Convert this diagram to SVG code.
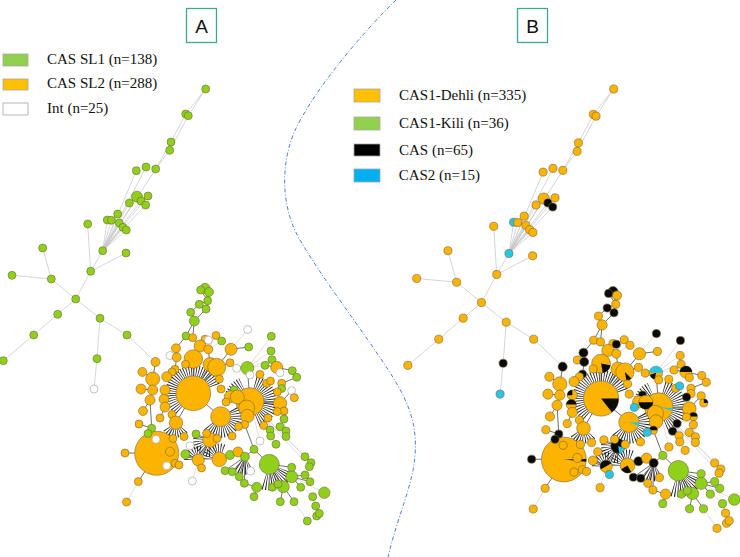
<svg xmlns="http://www.w3.org/2000/svg" xmlns:xlink="http://www.w3.org/1999/xlink" width="740" height="557" viewBox="0 0 740 557">
<style>
text{font-family:"Liberation Serif","Times New Roman",serif;font-size:15px;fill:#111}
.ttl{font-family:"Liberation Sans",Arial,sans-serif;font-size:19px;text-anchor:middle}
.box{fill:none;stroke:#3aaa94;stroke-width:1.3}
.sw{stroke:#a6a6a6;stroke-width:.8}
circle{stroke:#74683a;stroke-width:.6}
.o{fill:#fdb400}.g{fill:#8fd11a}.w{fill:#fff;stroke:#9a9a9a}.k{fill:#0a0a0a}.c{fill:#26c6e8}
.pk{fill:#0a0a0a}.pc{fill:#26c6e8}
.t{stroke:#c4c4c4;stroke-width:.7}
.e{stroke:#333;stroke-width:.7}
.l{stroke:#cacaca;stroke-width:.6}
.s{stroke:#1e1e1e;fill:none;stroke-dasharray:.8 1.6}
.div{fill:none;stroke:#3b6fd2;stroke-width:.9;stroke-dasharray:4 2 1 2}
</style>
<rect width="740" height="557" fill="#fff"/>
<path class="div" d="M396 0 C360 35 310 95 293 135 C278 175 285 215 300 240 C320 275 355 320 385 365 C405 395 418 420 415 455 C413 485 398 515 388 557"/>
<g id="title-a"><rect class="box" x="186.5" y="8.5" width="30" height="34"/><text class="ttl" x="201.5" y="32.5">A</text></g>
<g id="title-b"><rect class="box" x="517.5" y="8.5" width="30" height="34"/><text class="ttl" x="532.5" y="32.5">B</text></g>
<g id="legend-a">
<rect class="sw" x="3" y="54" width="25" height="12" fill="#92d050"/><text x="47" y="64">CAS SL1 (n=138)</text>
<rect class="sw" x="3" y="79" width="25" height="11" fill="#ffc000"/><text x="47" y="88">CAS SL2 (n=288)</text>
<rect class="sw" x="3" y="103" width="25" height="12" fill="#fff"/><text x="47" y="113">Int (n=25)</text>
</g>
<g id="legend-b">
<rect class="sw" x="354" y="89" width="26" height="13" fill="#ffc000"/><text x="399" y="100">CAS1-Dehli (n=335)</text>
<rect class="sw" x="354" y="117" width="26" height="13" fill="#92d050"/><text x="399" y="128">CAS1-Kili (n=36)</text>
<rect class="sw" x="354" y="144" width="26" height="12" fill="#000"/><text x="399" y="155">CAS (n=65)</text>
<rect class="sw" x="354" y="169" width="26" height="13" fill="#00b0f0"/><text x="398.7" y="180">CAS2 (n=15)</text>
</g>
<g id="connectors-a">
<line class="t" x1="205.7" y1="89" x2="185.7" y2="114"/><line class="t" x1="205.7" y1="89" x2="188.3" y2="115.7"/>
<line class="t" x1="185.7" y1="114" x2="171" y2="142"/><line class="t" x1="188.3" y1="115.7" x2="169.7" y2="150.3"/>
<line class="t" x1="171" y1="142" x2="155.7" y2="169"/><line class="t" x1="169.7" y1="150.3" x2="155.7" y2="169"/>
<line class="t" x1="155.7" y1="169" x2="102.7" y2="250.7"/><line class="t" x1="146" y1="167" x2="102.7" y2="250.7"/>
<line class="t" x1="136.3" y1="170.7" x2="102.7" y2="250.7"/><line class="t" x1="137" y1="196.7" x2="102.7" y2="250.7"/>
<line class="t" x1="141" y1="201" x2="102.7" y2="250.7"/><line class="t" x1="148" y1="196" x2="102.7" y2="250.7"/>
<line class="t" x1="145.7" y1="205" x2="102.7" y2="250.7"/><line class="t" x1="129.3" y1="203" x2="102.7" y2="250.7"/>
<line class="t" x1="117.7" y1="214" x2="102.7" y2="250.7"/><line class="t" x1="107.3" y1="220" x2="102.7" y2="250.7"/>
<line class="t" x1="111.3" y1="220.3" x2="102.7" y2="250.7"/><line class="t" x1="119.3" y1="223" x2="102.7" y2="250.7"/>
<line class="t" x1="123" y1="227.3" x2="102.7" y2="250.7"/><line class="t" x1="126.3" y1="230" x2="102.7" y2="250.7"/>
<line class="t" x1="87.7" y1="224" x2="90.7" y2="271.3"/><line class="t" x1="102.7" y1="250.7" x2="90.7" y2="271.3"/>
<line class="t" x1="126" y1="253" x2="90.7" y2="271.3"/><line class="t" x1="90.7" y1="271.3" x2="75.7" y2="299"/>
<line class="t" x1="42.7" y1="248" x2="51.3" y2="279"/><line class="t" x1="12" y1="275.3" x2="51.3" y2="279"/>
<line class="t" x1="51.3" y1="279" x2="75.7" y2="299"/><line class="t" x1="75.7" y1="299" x2="57.7" y2="314.3"/>
<line class="t" x1="57.7" y1="314.3" x2="33.7" y2="335"/><line class="t" x1="33.7" y1="335" x2="3.3" y2="360.7"/>
<line class="t" x1="75.7" y1="299" x2="100" y2="318.3"/><line class="t" x1="100" y1="318.3" x2="127" y2="335"/>
<line class="t" x1="100" y1="318.3" x2="97" y2="358.7"/><line class="t" x1="97" y1="358.7" x2="94" y2="389"/>
<line class="t" x1="127" y1="335" x2="155.5" y2="362"/>
<line class="l" x1="247.7" y1="329.5" x2="231" y2="349.3"/><line class="l" x1="271.3" y1="336.3" x2="247.3" y2="368"/>
<line class="l" x1="271" y1="351" x2="247.3" y2="368"/><line class="l" x1="272" y1="359.7" x2="247.3" y2="368"/>
<line class="l" x1="265" y1="365.3" x2="247.3" y2="368"/><line class="l" x1="250" y1="375" x2="247.3" y2="368"/>
<line class="l" x1="170" y1="355.5" x2="176" y2="348.3"/><line class="l" x1="205" y1="339.3" x2="200" y2="346"/>
<line class="l" x1="216" y1="335.5" x2="208.3" y2="349.3"/><line class="l" x1="221.7" y1="341" x2="208.3" y2="349.3"/>
<line class="l" x1="208.3" y1="340" x2="200" y2="346"/>
<line class="l" x1="250" y1="401.7" x2="305" y2="456.7"/><line class="l" x1="250" y1="401.7" x2="311" y2="462.7"/>
<line class="l" x1="250" y1="401.7" x2="309.3" y2="466.7"/><line class="l" x1="268" y1="418" x2="270" y2="430"/>
<line class="l" x1="268" y1="418" x2="270.7" y2="436"/><line class="l" x1="284" y1="419" x2="280" y2="426.7"/>
<line class="l" x1="284" y1="419" x2="286" y2="431"/><line class="l" x1="284" y1="419" x2="286" y2="436.5"/>
<line class="l" x1="270.7" y1="436" x2="276" y2="444.3"/><line class="l" x1="260" y1="441" x2="250" y2="401.7"/>
<line class="l" x1="324.3" y1="492.7" x2="291.7" y2="476.7"/><line class="l" x1="312.7" y1="496.7" x2="291.7" y2="476.7"/>
<line class="l" x1="315.7" y1="506" x2="312.7" y2="496.7"/><line class="l" x1="316.7" y1="516" x2="312.7" y2="496.7"/>
<line class="l" x1="319.3" y1="513.5" x2="312.7" y2="496.7"/><line class="l" x1="307.3" y1="521" x2="294" y2="501.7"/>
<line class="l" x1="190" y1="445.7" x2="210" y2="440"/><line class="l" x1="192.3" y1="481" x2="198.3" y2="460"/>
<line class="l" x1="166.7" y1="465.7" x2="156.7" y2="453.3"/><line class="l" x1="138.3" y1="481.6" x2="126.6" y2="502"/>
<line class="l" x1="250.7" y1="471" x2="245" y2="456.7"/><line class="l" x1="280" y1="372.7" x2="276.7" y2="367.3"/>
<line class="e" x1="205" y1="288.3" x2="207.7" y2="300.7"/><line class="e" x1="200.7" y1="290" x2="207.7" y2="300.7"/>
<line class="e" x1="209" y1="292" x2="207.7" y2="300.7"/><line class="e" x1="207.7" y1="300.7" x2="206" y2="309"/>
<line class="e" x1="199.3" y1="304.3" x2="190.7" y2="312.3"/><line class="e" x1="207.7" y1="300.7" x2="199.3" y2="304.3"/>
<line class="e" x1="206" y1="309" x2="194.3" y2="321"/><line class="e" x1="190.7" y1="312.3" x2="194.3" y2="321"/>
<line class="e" x1="194.3" y1="321" x2="186" y2="336"/><line class="e" x1="194.3" y1="321" x2="192.7" y2="337.7"/>
<line class="e" x1="186" y1="336" x2="176" y2="348.3"/><line class="e" x1="192.7" y1="337.7" x2="200" y2="346"/>
<line class="e" x1="200" y1="346" x2="193.3" y2="359"/><line class="e" x1="208.3" y1="349.3" x2="210" y2="364.5"/>
<line class="e" x1="231" y1="349.3" x2="216.7" y2="367.3"/><line class="e" x1="230" y1="362.7" x2="216.7" y2="367.3"/>
<line class="e" x1="248.7" y1="347" x2="231" y2="349.3"/><line class="e" x1="236.7" y1="368.3" x2="247.3" y2="368"/>
<line class="e" x1="247.3" y1="368" x2="250" y2="401.7"/><line class="e" x1="193.3" y1="359" x2="193.3" y2="393.3"/>
<line class="e" x1="216.7" y1="367.3" x2="193.3" y2="393.3"/><line class="e" x1="210" y1="364.5" x2="193.3" y2="393.3"/>
<line class="e" x1="176" y1="348.3" x2="176.7" y2="357.3"/><line class="e" x1="155.5" y1="362" x2="152.7" y2="379"/>
<line class="e" x1="142.4" y1="371.9" x2="152.7" y2="379"/><line class="e" x1="175" y1="369.3" x2="176.7" y2="357.3"/>
<line class="e" x1="141" y1="389" x2="152.7" y2="390"/><line class="e" x1="143" y1="411" x2="150" y2="400"/>
<line class="e" x1="139" y1="424" x2="151.7" y2="428.3"/><line class="e" x1="160" y1="418" x2="165" y2="407"/>
<line class="e" x1="193.3" y1="393.3" x2="220.7" y2="416.7"/><line class="e" x1="220.7" y1="416.7" x2="250" y2="401.7"/>
<line class="e" x1="193.3" y1="393.3" x2="176" y2="422.7"/><line class="e" x1="176" y1="422.7" x2="156.7" y2="453.3"/>
<line class="e" x1="156.7" y1="453.3" x2="125" y2="453"/><line class="e" x1="156.7" y1="453.3" x2="138.3" y2="481.6"/>
<line class="e" x1="151.7" y1="428.3" x2="150" y2="400"/><line class="e" x1="148" y1="433.5" x2="151.7" y2="428.3"/>
<line class="e" x1="196" y1="434" x2="210" y2="440"/><line class="e" x1="220.7" y1="416.7" x2="210" y2="440"/>
<line class="e" x1="210" y1="440" x2="198.3" y2="460"/><line class="e" x1="210" y1="440" x2="219.3" y2="459.3"/>
<line class="e" x1="219.3" y1="459.3" x2="230" y2="455"/><line class="e" x1="198.3" y1="460" x2="201.5" y2="468"/>
<line class="e" x1="185.3" y1="454.3" x2="198.3" y2="460"/><line class="e" x1="230" y1="455" x2="238" y2="452"/>
<line class="e" x1="238" y1="452" x2="245" y2="456.7"/><line class="e" x1="245" y1="456.7" x2="254" y2="449.3"/>
<line class="e" x1="254" y1="449.3" x2="269.3" y2="464.3"/><line class="e" x1="254" y1="449.3" x2="244.7" y2="424.5"/>
<line class="e" x1="244.7" y1="424.5" x2="250" y2="401.7"/><line class="e" x1="225" y1="470.7" x2="245" y2="456.7"/>
<line class="e" x1="232.3" y1="471.7" x2="245" y2="456.7"/><line class="e" x1="239.3" y1="476.7" x2="245" y2="456.7"/>
<line class="e" x1="244.3" y1="483.3" x2="245" y2="456.7"/><line class="e" x1="256.7" y1="487.3" x2="244.3" y2="483.3"/>
<line class="e" x1="254" y1="496.7" x2="256.7" y2="487.3"/><line class="e" x1="269.3" y1="464.3" x2="291.7" y2="476.7"/>
<line class="e" x1="269.3" y1="464.3" x2="291.7" y2="467.3"/><line class="e" x1="269.3" y1="464.3" x2="272.3" y2="487.3"/>
<line class="e" x1="269.3" y1="464.3" x2="278" y2="484"/><line class="e" x1="269.3" y1="464.3" x2="283.3" y2="486.7"/>
<line class="e" x1="291.7" y1="476.7" x2="305" y2="475"/><line class="e" x1="291.7" y1="476.7" x2="310" y2="481.7"/>
<line class="e" x1="291.7" y1="476.7" x2="300.7" y2="487.3"/><line class="e" x1="283.3" y1="486.7" x2="280.3" y2="501.7"/>
<line class="e" x1="283.3" y1="486.7" x2="294" y2="501.7"/><line class="e" x1="276.7" y1="367.3" x2="265" y2="365.3"/>
<line class="e" x1="292.3" y1="370.7" x2="276.7" y2="367.3"/><line class="e" x1="296.7" y1="377.3" x2="281.7" y2="383.3"/>
<line class="e" x1="291.7" y1="390.7" x2="280" y2="403.3"/><line class="e" x1="294.3" y1="397.7" x2="291.7" y2="390.7"/>
<line class="e" x1="284" y1="411" x2="280" y2="403.3"/><line class="e" x1="284" y1="419" x2="284" y2="411"/>
<line class="e" x1="280" y1="403.3" x2="250" y2="401.7"/><line class="e" x1="172" y1="414.5" x2="176" y2="422.7"/>
<path class="s" stroke-width="10.6" d="M178.77 410.61 A22.6 22.6 0 1 1 214.54 385.57"/>
<path class="s" stroke-width="13" d="M255.31 381.9 A20.5 20.5 0 0 1 257.01 420.97"/>
<path class="s" stroke-width="12" d="M230.68 396.52 A20 20 0 0 1 241.54 383.58"/>
<path class="s" stroke-width="11" d="M234.12 408.95 A15.5 15.5 0 0 1 208 425.6"/>
<path class="s" stroke-width="8.3" d="M184.27 429.64 A10.8 10.8 0 0 1 166.65 428.1"/>
<path class="s" stroke-width="9.5" d="M210 452 A12 12 0 0 1 198.72 435.9"/>
<path class="s" stroke-width="8.6" d="M207.7 459.3 A11.6 11.6 0 0 1 225.1 449.25"/>
<path class="s" stroke-width="16" d="M286.22 470.46 A18 18 0 0 1 263.14 481.22"/>
<path class="s" stroke-width="14" d="M250.5 466.23 A11 11 0 0 1 237.93 465.13"/>
<path class="s" stroke-width="8" d="M188.3 460 A10 10 0 0 1 201.72 450.6"/>
</g>
<g id="connectors-b"><use xlink:href="#connectors-a" href="#connectors-a" transform="translate(404.5,-1.5) scale(1.017)"/></g>
<g id="nodes-a">
<g id="a-t1"><circle class="g" cx="205.7" cy="89" r="4"/></g>
<g id="a-t2"><circle class="g" cx="185.7" cy="114" r="4"/></g>
<g id="a-t3"><circle class="g" cx="188.3" cy="115.7" r="4"/></g>
<g id="a-t4"><circle class="g" cx="171" cy="142" r="4"/></g>
<g id="a-t5"><circle class="g" cx="169.7" cy="150.3" r="4"/></g>
<g id="a-t6"><circle class="g" cx="136.3" cy="170.7" r="4"/></g>
<g id="a-t7"><circle class="g" cx="146" cy="167" r="4"/></g>
<g id="a-t8"><circle class="g" cx="155.7" cy="169" r="4"/></g>
<g id="a-t9"><circle class="g" cx="137" cy="196.7" r="5.5"/></g>
<g id="a-t9b"><circle class="g" cx="141" cy="201" r="4"/></g>
<g id="a-t10"><circle class="g" cx="148" cy="196" r="4"/></g>
<g id="a-t11"><circle class="g" cx="145.7" cy="205" r="4"/></g>
<g id="a-t12"><circle class="g" cx="129.3" cy="203" r="4"/></g>
<g id="a-t13"><circle class="g" cx="117.7" cy="214" r="4"/></g>
<g id="a-t14"><circle class="g" cx="107.3" cy="220" r="4"/></g>
<g id="a-t15"><circle class="g" cx="111.3" cy="220.3" r="4"/></g>
<g id="a-t16"><circle class="g" cx="119.3" cy="223" r="4"/></g>
<g id="a-t17"><circle class="g" cx="123" cy="227.3" r="4"/></g>
<g id="a-t18"><circle class="g" cx="126.3" cy="230" r="4"/></g>
<g id="a-t19"><circle class="g" cx="87.7" cy="224" r="4"/></g>
<g id="a-t20"><circle class="g" cx="102.7" cy="250.7" r="4"/></g>
<g id="a-t21"><circle class="g" cx="126" cy="253" r="4"/></g>
<g id="a-t22"><circle class="g" cx="90.7" cy="271.3" r="4"/></g>
<g id="a-t23"><circle class="g" cx="42.7" cy="248" r="4"/></g>
<g id="a-t24"><circle class="g" cx="51.3" cy="279" r="4"/></g>
<g id="a-t25"><circle class="g" cx="12" cy="275.3" r="4"/></g>
<g id="a-t26"><circle class="g" cx="75.7" cy="299" r="4"/></g>
<g id="a-t27"><circle class="g" cx="57.7" cy="314.3" r="4"/></g>
<g id="a-t28"><circle class="g" cx="33.7" cy="335" r="4"/></g>
<g id="a-t29"><circle class="g" cx="3.3" cy="360.7" r="4"/></g>
<g id="a-t30"><circle class="g" cx="100" cy="318.3" r="4"/></g>
<g id="a-t31"><circle class="g" cx="127" cy="335" r="4"/></g>
<g id="a-t32"><circle class="g" cx="97" cy="358.7" r="4"/></g>
<g id="a-t33"><circle class="w" cx="94" cy="389" r="4"/></g>
<g id="a-h1"><circle class="o" cx="193.3" cy="393.3" r="17.3"/></g>
<g id="a-h4"><circle class="o" cx="156.7" cy="453.3" r="22"/></g>
<g id="a-h2"><circle class="o" cx="250" cy="401.7" r="14"/></g>
<g id="a-h3"><circle class="o" cx="220.7" cy="416.7" r="10"/></g>
<g id="a-h5"><circle class="g" cx="269.3" cy="464.3" r="10"/></g>
<g id="a-a1"><circle class="g" cx="205" cy="288.3" r="5"/></g>
<g id="a-a2"><circle class="g" cx="200.7" cy="290" r="4"/></g>
<g id="a-a3"><circle class="g" cx="209" cy="292" r="4.5"/></g>
<g id="a-a4"><circle class="g" cx="207.7" cy="300.7" r="4"/></g>
<g id="a-a5"><circle class="g" cx="199.3" cy="304.3" r="4"/></g>
<g id="a-a6"><circle class="g" cx="206" cy="309" r="4"/></g>
<g id="a-a7"><circle class="g" cx="190.7" cy="312.3" r="4"/></g>
<g id="a-a8"><circle class="g" cx="194.3" cy="321" r="5"/></g>
<g id="a-a9"><circle class="g" cx="186" cy="336" r="4"/></g>
<g id="a-a10"><circle class="o" cx="192.7" cy="337.7" r="4"/></g>
<g id="a-c1"><circle class="o" cx="176" cy="348.3" r="4.5"/></g>
<g id="a-c3"><circle class="o" cx="205" cy="339.3" r="4"/></g>
<g id="a-c4"><circle class="w" cx="208.3" cy="340" r="4"/></g>
<g id="a-c5"><circle class="o" cx="216" cy="335.5" r="4"/></g>
<g id="a-c6"><circle class="g" cx="221.7" cy="341" r="4"/></g>
<g id="a-c7"><circle class="o" cx="200" cy="346" r="6"/></g>
<g id="a-c8"><circle class="o" cx="208.3" cy="349.3" r="4.5"/></g>
<g id="a-c9"><circle class="w" cx="170" cy="355.5" r="4"/></g>
<g id="a-c10"><circle class="o" cx="176.7" cy="357.3" r="4.5"/></g>
<g id="a-c11"><circle class="o" cx="155.5" cy="362" r="4.5"/></g>
<g id="a-c12"><circle class="o" cx="231" cy="349.3" r="6"/></g>
<g id="a-c13"><circle class="o" cx="230" cy="362.7" r="4"/></g>
<g id="a-c16"><circle class="o" cx="210" cy="364.5" r="7"/></g>
<g id="a-c14"><circle class="o" cx="193.3" cy="359" r="9.3"/></g>
<g id="a-c15"><circle class="o" cx="216.7" cy="367.3" r="9"/></g>
<g id="a-c17"><circle class="w" cx="236.7" cy="368.3" r="4"/></g>
<g id="a-c18"><circle class="w" cx="247.7" cy="329.5" r="4"/></g>
<g id="a-c19"><circle class="g" cx="248.7" cy="347" r="4"/></g>
<g id="a-c20"><circle class="g" cx="271.3" cy="336.3" r="4"/></g>
<g id="a-c21"><circle class="g" cx="271" cy="351" r="4"/></g>
<g id="a-c22"><circle class="g" cx="272" cy="359.7" r="4"/></g>
<g id="a-c23"><circle class="g" cx="265" cy="365.3" r="4"/></g>
<g id="a-c24"><circle class="g" cx="247.3" cy="368" r="6.5"/></g>
<g id="a-c25"><circle class="w" cx="250" cy="375" r="4"/></g>
<g id="a-c26"><circle class="o" cx="175" cy="369.3" r="4"/></g>
<g id="a-c36b"><circle class="o" cx="172" cy="372" r="4"/></g>
<g id="a-c36c"><circle class="o" cx="185.5" cy="364.3" r="4"/></g>
<g id="a-c36e"><circle class="o" cx="219.3" cy="379" r="4"/></g>
<g id="a-c27"><circle class="o" cx="166.7" cy="376.7" r="5"/></g>
<g id="a-c28"><circle class="o" cx="152.7" cy="379" r="7"/></g>
<g id="a-c29"><circle class="o" cx="165" cy="390" r="5"/></g>
<g id="a-c30"><circle class="o" cx="152.7" cy="390" r="5"/></g>
<g id="a-c31"><circle class="o" cx="164" cy="399.3" r="5"/></g>
<g id="a-c32"><circle class="o" cx="165" cy="407" r="5"/></g>
<g id="a-c33"><circle class="o" cx="150" cy="400" r="5"/></g>
<g id="a-c34"><circle class="o" cx="142.4" cy="371.9" r="4.5"/></g>
<g id="a-d1"><circle class="o" cx="141" cy="389" r="5"/></g>
<g id="a-d2"><circle class="o" cx="143" cy="411" r="4.5"/></g>
<g id="a-d3"><circle class="o" cx="139" cy="424" r="4"/></g>
<g id="a-d4"><circle class="o" cx="160" cy="418" r="4"/></g>
<g id="a-c35"><circle class="o" cx="172" cy="414.5" r="4"/></g>
<g id="a-c36"><circle class="o" cx="176" cy="422.7" r="6.7"/></g>
<g id="a-c38"><circle class="g" cx="151.7" cy="428.3" r="4"/></g>
<g id="a-c39"><circle class="g" cx="148" cy="433.5" r="4"/></g>
<g id="a-c40"><circle class="w" cx="156" cy="439.3" r="4"/></g>
<g id="a-c41"><circle class="w" cx="166.7" cy="465.7" r="4"/></g>
<g id="a-c42"><circle class="o" cx="170" cy="451.7" r="4.5"/></g>
<g id="a-c42b"><circle class="o" cx="175" cy="463.3" r="4"/></g>
<g id="a-c42c"><circle class="o" cx="179" cy="465" r="4"/></g>
<g id="a-c43"><circle class="w" cx="190" cy="445.7" r="4"/></g>
<g id="a-c44"><circle class="g" cx="185.3" cy="454.3" r="4.5"/></g>
<g id="a-c45"><circle class="g" cx="196" cy="434" r="4"/></g>
<g id="a-c113"><circle class="o" cx="184" cy="436.6" r="4"/></g>
<g id="a-c114"><circle class="o" cx="173" cy="438.5" r="4"/></g>
<g id="a-c46"><circle class="o" cx="210" cy="440" r="7.3"/></g>
<g id="a-c47"><circle class="o" cx="198.3" cy="460" r="6"/></g>
<g id="a-c48"><circle class="o" cx="219.3" cy="459.3" r="7.3"/></g>
<g id="a-c49"><circle class="o" cx="201.5" cy="468" r="4"/></g>
<g id="a-c50"><circle class="w" cx="192.3" cy="481" r="4"/></g>
<g id="a-c51"><circle class="g" cx="234" cy="390" r="4"/></g>
<g id="a-c53"><circle class="o" cx="221" cy="389" r="4"/></g>
<g id="a-c54"><circle class="o" cx="230.3" cy="396.7" r="6"/></g>
<g id="a-c52"><circle class="o" cx="226" cy="402" r="4"/></g>
<g id="a-c55"><circle class="o" cx="237.3" cy="397" r="7"/></g>
<g id="a-c56"><circle class="o" cx="246.7" cy="408" r="8"/></g>
<g id="a-c57"><circle class="o" cx="247.3" cy="416" r="6.7"/></g>
<g id="a-c58"><circle class="o" cx="280" cy="403.3" r="6.7"/></g>
<g id="a-c59"><circle class="o" cx="276.7" cy="367.3" r="6"/></g>
<g id="a-c60"><circle class="o" cx="266.7" cy="383.3" r="4"/></g>
<g id="a-c61"><circle class="o" cx="281.7" cy="383.3" r="4"/></g>
<g id="a-c62"><circle class="w" cx="280" cy="372.7" r="4"/></g>
<g id="a-c63"><circle class="w" cx="291.7" cy="390.7" r="4"/></g>
<g id="a-c64"><circle class="o" cx="294.3" cy="397.7" r="4"/></g>
<g id="a-c65"><circle class="g" cx="292.3" cy="370.7" r="4"/></g>
<g id="a-c66"><circle class="g" cx="296.7" cy="377.3" r="4"/></g>
<g id="a-c67"><circle class="g" cx="281.7" cy="388.5" r="4"/></g>
<g id="a-c68"><circle class="o" cx="284" cy="411" r="4"/></g>
<g id="a-c69"><circle class="g" cx="284" cy="419" r="4"/></g>
<g id="a-c70"><circle class="o" cx="259.9" cy="374.4" r="4"/></g>
<g id="a-c70b"><circle class="o" cx="270.5" cy="381" r="4"/></g>
<g id="a-c70c"><circle class="o" cx="277.3" cy="392" r="4"/></g>
<g id="a-c70d"><circle class="o" cx="277.3" cy="411.6" r="4"/></g>
<g id="a-c71"><circle class="o" cx="263.7" cy="425.5" r="4"/></g>
<g id="a-c72"><circle class="o" cx="268" cy="418" r="4"/></g>
<g id="a-c73"><circle class="o" cx="244.7" cy="424.5" r="4"/></g>
<g id="a-c74"><circle class="o" cx="238.7" cy="426.5" r="4"/></g>
<g id="a-c74c"><circle class="o" cx="232" cy="436" r="4"/></g>
<g id="a-c74d"><circle class="o" cx="217" cy="438.5" r="4"/></g>
<g id="a-c74e"><circle class="o" cx="206.6" cy="433.5" r="4"/></g>
<g id="a-c75"><circle class="g" cx="230" cy="455" r="4.5"/></g>
<g id="a-c77"><circle class="o" cx="238" cy="452" r="5"/></g>
<g id="a-c76"><circle class="g" cx="245" cy="456.7" r="4.5"/></g>
<g id="a-c78"><circle class="g" cx="254" cy="449.3" r="4"/></g>
<g id="a-c79"><circle class="w" cx="260" cy="441" r="4"/></g>
<g id="a-c80"><circle class="g" cx="225" cy="470.7" r="4"/></g>
<g id="a-c81"><circle class="g" cx="232.3" cy="471.7" r="4"/></g>
<g id="a-c82"><circle class="g" cx="239.3" cy="476.7" r="4"/></g>
<g id="a-c83"><circle class="g" cx="244.3" cy="483.3" r="4"/></g>
<g id="a-c84"><circle class="w" cx="250.7" cy="471" r="4"/></g>
<g id="a-c85"><circle class="g" cx="256.7" cy="487.3" r="5"/></g>
<g id="a-c86"><circle class="g" cx="254" cy="496.7" r="4"/></g>
<g id="a-c87"><circle class="g" cx="291.7" cy="476.7" r="6"/></g>
<g id="a-c88"><circle class="g" cx="283.3" cy="486.7" r="6"/></g>
<g id="a-c89"><circle class="g" cx="324.3" cy="492.7" r="5.7"/></g>
<g id="a-c90"><circle class="g" cx="305" cy="456.7" r="4"/></g>
<g id="a-c91"><circle class="g" cx="311" cy="462.7" r="4"/></g>
<g id="a-c92"><circle class="g" cx="309.3" cy="466.7" r="4"/></g>
<g id="a-c93"><circle class="g" cx="270" cy="430" r="4"/></g>
<g id="a-c94"><circle class="g" cx="270.7" cy="436" r="4"/></g>
<g id="a-c95"><circle class="g" cx="280" cy="426.7" r="4"/></g>
<g id="a-c96"><circle class="g" cx="286" cy="431" r="4"/></g>
<g id="a-c97"><circle class="g" cx="286" cy="436.5" r="4"/></g>
<g id="a-c98"><circle class="g" cx="276" cy="444.3" r="4"/></g>
<g id="a-c99"><circle class="g" cx="280.3" cy="501.7" r="4"/></g>
<g id="a-c100"><circle class="g" cx="294" cy="501.7" r="4"/></g>
<g id="a-c101"><circle class="g" cx="312.7" cy="496.7" r="4"/></g>
<g id="a-c102"><circle class="g" cx="315.7" cy="506" r="4"/></g>
<g id="a-c103"><circle class="g" cx="316.7" cy="516" r="4"/></g>
<g id="a-c104"><circle class="g" cx="319.3" cy="513.5" r="4"/></g>
<g id="a-c105"><circle class="g" cx="307.3" cy="521" r="4"/></g>
<g id="a-c106"><circle class="g" cx="291.7" cy="467.3" r="4"/></g>
<g id="a-c107"><circle class="g" cx="305" cy="475" r="4"/></g>
<g id="a-c108"><circle class="g" cx="310" cy="481.7" r="4"/></g>
<g id="a-c109"><circle class="g" cx="300.7" cy="487.3" r="4"/></g>
<g id="a-c110"><circle class="g" cx="272.3" cy="487.3" r="4"/></g>
<g id="a-c111"><circle class="g" cx="278" cy="484" r="4"/></g>
<g id="a-c112"><circle class="o" cx="125" cy="453" r="4"/></g>
<g id="a-c115"><circle class="o" cx="138.3" cy="481.6" r="4"/></g>
<g id="a-c116"><circle class="o" cx="126.6" cy="502" r="4"/></g>
</g>
<g id="nodes-b" transform="translate(404.5,-1.5) scale(1.017)">
<g id="b-t1"><circle class="o" cx="205.7" cy="89" r="4"/></g>
<g id="b-t2"><circle class="o" cx="185.7" cy="114" r="4"/></g>
<g id="b-t3"><circle class="o" cx="188.3" cy="115.7" r="4"/></g>
<g id="b-t4"><circle class="o" cx="171" cy="142" r="4"/></g>
<g id="b-t5"><circle class="o" cx="169.7" cy="150.3" r="4"/></g>
<g id="b-t6"><circle class="o" cx="136.3" cy="170.7" r="4"/></g>
<g id="b-t7"><circle class="o" cx="146" cy="167" r="4"/></g>
<g id="b-t8"><circle class="o" cx="155.7" cy="169" r="4"/></g>
<g id="b-t9"><circle class="o" cx="137" cy="196.7" r="5.5"/></g>
<g id="b-t9b"><circle class="k" cx="141" cy="201" r="4"/></g>
<g id="b-t10"><circle class="o" cx="148" cy="196" r="4"/></g>
<g id="b-t11"><circle class="k" cx="145.7" cy="205" r="4"/></g>
<g id="b-t12"><circle class="o" cx="129.3" cy="203" r="4"/></g>
<g id="b-t13"><circle class="o" cx="117.7" cy="214" r="4"/></g>
<g id="b-t14"><circle class="c" cx="107.3" cy="220" r="4"/></g>
<g id="b-t15"><circle class="o" cx="111.3" cy="220.3" r="4"/></g>
<g id="b-t16"><circle class="o" cx="119.3" cy="223" r="4"/></g>
<g id="b-t17"><circle class="o" cx="123" cy="227.3" r="4"/></g>
<g id="b-t18"><circle class="o" cx="126.3" cy="230" r="4"/></g>
<g id="b-t19"><circle class="o" cx="87.7" cy="224" r="4"/></g>
<g id="b-t20"><circle class="c" cx="102.7" cy="250.7" r="4"/></g>
<g id="b-t21"><circle class="o" cx="126" cy="253" r="4"/></g>
<g id="b-t22"><circle class="o" cx="90.7" cy="271.3" r="4"/></g>
<g id="b-t23"><circle class="o" cx="42.7" cy="248" r="4"/></g>
<g id="b-t24"><circle class="o" cx="51.3" cy="279" r="4"/></g>
<g id="b-t25"><circle class="o" cx="12" cy="275.3" r="4"/></g>
<g id="b-t26"><circle class="o" cx="75.7" cy="299" r="4"/></g>
<g id="b-t27"><circle class="o" cx="57.7" cy="314.3" r="4"/></g>
<g id="b-t28"><circle class="o" cx="33.7" cy="335" r="4"/></g>
<g id="b-t29"><circle class="o" cx="3.3" cy="360.7" r="4"/></g>
<g id="b-t30"><circle class="o" cx="100" cy="318.3" r="4"/></g>
<g id="b-t31"><circle class="o" cx="127" cy="335" r="4"/></g>
<g id="b-t32"><circle class="k" cx="97" cy="358.7" r="4"/></g>
<g id="b-t33"><circle class="c" cx="94" cy="389" r="4"/></g>
<g id="b-h1"><circle class="o" cx="193.3" cy="393.3" r="17.3"/><path class="pk" d="M193.3 393.3 L210.6 393.3 A17.3 17.3 0 0 1 203.95 406.93 Z"/></g>
<g id="b-h4"><circle class="o" cx="156.7" cy="453.3" r="22"/><path class="pk" d="M156.7 453.3 L178.7 452.92 A22 22 0 0 1 178.58 455.6 Z"/></g>
<g id="b-h2"><circle class="o" cx="250" cy="401.7" r="14"/><path class="pc" d="M250 401.7 L263.95 402.92 A14 14 0 0 1 263.52 405.32 Z"/></g>
<g id="b-h3"><circle class="o" cx="220.7" cy="416.7" r="10"/><path class="pc" d="M220.7 416.7 L230.7 416.7 A10 10 0 0 1 230.1 420.12 Z"/></g>
<g id="b-h5"><circle class="g" cx="269.3" cy="464.3" r="10"/></g>
<g id="b-a1"><circle class="k" cx="205" cy="288.3" r="5"/></g>
<g id="b-a2"><circle class="k" cx="200.7" cy="290" r="4"/></g>
<g id="b-a3"><circle class="o" cx="209" cy="292" r="4.5"/></g>
<g id="b-a4"><circle class="o" cx="207.7" cy="300.7" r="4"/></g>
<g id="b-a5"><circle class="k" cx="199.3" cy="304.3" r="4"/></g>
<g id="b-a6"><circle class="k" cx="206" cy="309" r="4"/></g>
<g id="b-a7"><circle class="o" cx="190.7" cy="312.3" r="4"/></g>
<g id="b-a8"><circle class="o" cx="194.3" cy="321" r="5"/></g>
<g id="b-a9"><circle class="o" cx="186" cy="336" r="4"/></g>
<g id="b-a10"><circle class="o" cx="192.7" cy="337.7" r="4"/></g>
<g id="b-c1"><circle class="k" cx="176" cy="348.3" r="4.5"/></g>
<g id="b-c3"><circle class="o" cx="205" cy="339.3" r="4"/></g>
<g id="b-c4"><circle class="k" cx="208.3" cy="340" r="4"/></g>
<g id="b-c5"><circle class="o" cx="216" cy="335.5" r="4"/></g>
<g id="b-c6"><circle class="o" cx="221.7" cy="341" r="4"/></g>
<g id="b-c7"><circle class="o" cx="200" cy="346" r="6"/></g>
<g id="b-c8"><circle class="o" cx="208.3" cy="349.3" r="4.5"/></g>
<g id="b-c9"><circle class="o" cx="170" cy="355.5" r="4"/></g>
<g id="b-c10"><circle class="k" cx="176.7" cy="357.3" r="4.5"/></g>
<g id="b-c11"><circle class="k" cx="155.5" cy="362" r="4.5"/></g>
<g id="b-c12"><circle class="o" cx="231" cy="349.3" r="6"/></g>
<g id="b-c13"><circle class="o" cx="230" cy="362.7" r="4"/></g>
<g id="b-c16"><circle class="o" cx="210" cy="364.5" r="7"/></g>
<g id="b-c14"><circle class="o" cx="193.3" cy="359" r="9.3"/><path class="pk" d="M193.3 359 L202.46 360.62 A9.3 9.3 0 0 1 194.92 368.16 Z"/></g>
<g id="b-c15"><circle class="o" cx="216.7" cy="367.3" r="9"/><path class="pk" d="M216.7 367.3 L223.06 373.66 A9 9 0 0 1 218.27 376.17 Z"/></g>
<g id="b-c17"><circle class="o" cx="236.7" cy="368.3" r="4"/></g>
<g id="b-c18"><circle class="k" cx="247.7" cy="329.5" r="4"/></g>
<g id="b-c19"><circle class="o" cx="248.7" cy="347" r="4"/></g>
<g id="b-c20"><circle class="k" cx="271.3" cy="336.3" r="4"/></g>
<g id="b-c21"><circle class="o" cx="271" cy="351" r="4"/></g>
<g id="b-c22"><circle class="o" cx="272" cy="359.7" r="4"/></g>
<g id="b-c23"><circle class="o" cx="265" cy="365.3" r="4"/></g>
<g id="b-c24"><circle class="o" cx="247.3" cy="368" r="6.5"/><path class="pc" d="M247.3 368 L240.8 368 A6.5 6.5 0 0 1 253.8 368 Z"/><path class="pk" d="M247.3 368 L246.17 374.4 A6.5 6.5 0 0 1 241.19 370.22 Z"/></g>
<g id="b-c25"><circle class="o" cx="250" cy="375" r="4"/></g>
<g id="b-c26"><circle class="k" cx="175" cy="369.3" r="4"/></g>
<g id="b-c36b"><circle class="o" cx="172" cy="372" r="4"/></g>
<g id="b-c36c"><circle class="o" cx="185.5" cy="364.3" r="4"/></g>
<g id="b-c36e"><circle class="o" cx="219.3" cy="379" r="4"/></g>
<g id="b-c27"><circle class="o" cx="166.7" cy="376.7" r="5"/></g>
<g id="b-c28"><circle class="o" cx="152.7" cy="379" r="7"/></g>
<g id="b-c29"><circle class="o" cx="165" cy="390" r="5"/><path class="pk" d="M165 390 L160 390 A5 5 0 0 1 165 385 Z"/></g>
<g id="b-c30"><circle class="o" cx="152.7" cy="390" r="5"/></g>
<g id="b-c31"><circle class="o" cx="164" cy="399.3" r="5"/><path class="pk" d="M164 399.3 L159 399.3 A5 5 0 0 1 169 399.3 Z"/></g>
<g id="b-c32"><circle class="o" cx="165" cy="407" r="5"/></g>
<g id="b-c33"><circle class="o" cx="150" cy="400" r="5"/></g>
<g id="b-c34"><circle class="o" cx="142.4" cy="371.9" r="4.5"/></g>
<g id="b-d1"><circle class="o" cx="141" cy="389" r="5"/></g>
<g id="b-d2"><circle class="o" cx="143" cy="411" r="4.5"/></g>
<g id="b-d3"><circle class="o" cx="139" cy="424" r="4"/></g>
<g id="b-d4"><circle class="o" cx="160" cy="418" r="4"/></g>
<g id="b-c35"><circle class="o" cx="172" cy="414.5" r="4"/></g>
<g id="b-c36"><circle class="o" cx="176" cy="422.7" r="6.7"/></g>
<g id="b-c38"><circle class="k" cx="151.7" cy="428.3" r="4"/></g>
<g id="b-c39"><circle class="k" cx="148" cy="433.5" r="4"/></g>
<g id="b-c40"><circle class="o" cx="156" cy="439.3" r="4"/></g>
<g id="b-c41"><circle class="o" cx="166.7" cy="465.7" r="4"/></g>
<g id="b-c42"><circle class="o" cx="170" cy="451.7" r="4.5"/></g>
<g id="b-c42b"><circle class="o" cx="175" cy="463.3" r="4"/></g>
<g id="b-c42c"><circle class="o" cx="179" cy="465" r="4"/></g>
<g id="b-c43"><circle class="o" cx="190" cy="445.7" r="4"/></g>
<g id="b-c44"><circle class="o" cx="185.3" cy="454.3" r="4.5"/></g>
<g id="b-c45"><circle class="o" cx="196" cy="434" r="4"/></g>
<g id="b-c113"><circle class="o" cx="184" cy="436.6" r="4"/></g>
<g id="b-c114"><circle class="o" cx="173" cy="438.5" r="4"/></g>
<g id="b-c46"><circle class="k" cx="210" cy="440" r="7.3"/><path class="pc" d="M210 440 L216.86 442.5 A7.3 7.3 0 0 1 211.27 447.19 Z"/></g>
<g id="b-c47"><circle class="o" cx="198.3" cy="460" r="6"/><path class="pk" d="M198.3 460 L193.1 463 A6 6 0 0 1 203.5 457 Z"/></g>
<g id="b-c48"><circle class="o" cx="219.3" cy="459.3" r="7.3"/><path class="pk" d="M219.3 459.3 L222.95 465.62 A7.3 7.3 0 0 1 212.98 462.95 Z"/></g>
<g id="b-c49"><circle class="c" cx="201.5" cy="468" r="4"/></g>
<g id="b-c50"><circle class="o" cx="192.3" cy="481" r="4"/></g>
<g id="b-c51"><circle class="k" cx="234" cy="390" r="4"/></g>
<g id="b-c53"><circle class="o" cx="221" cy="389" r="4"/></g>
<g id="b-c54"><circle class="o" cx="230.3" cy="396.7" r="6"/></g>
<g id="b-c52"><circle class="c" cx="226" cy="402" r="4"/></g>
<g id="b-c55"><circle class="o" cx="237.3" cy="397" r="7"/><path class="pk" d="M237.3 397 L244.3 397 A7 7 0 0 1 230.3 397 Z"/></g>
<g id="b-c56"><circle class="o" cx="246.7" cy="408" r="8"/></g>
<g id="b-c57"><circle class="o" cx="247.3" cy="416" r="6.7"/></g>
<g id="b-c58"><circle class="o" cx="280" cy="403.3" r="6.7"/></g>
<g id="b-c59"><circle class="o" cx="276.7" cy="367.3" r="6"/><path class="pk" d="M276.7 367.3 L270.7 367.3 A6 6 0 0 1 282.7 367.3 Z"/></g>
<g id="b-c60"><circle class="o" cx="266.7" cy="383.3" r="4"/></g>
<g id="b-c61"><circle class="o" cx="281.7" cy="383.3" r="4"/></g>
<g id="b-c62"><circle class="o" cx="280" cy="372.7" r="4"/></g>
<g id="b-c63"><circle class="o" cx="291.7" cy="390.7" r="4"/></g>
<g id="b-c64"><circle class="o" cx="294.3" cy="397.7" r="4"/><path class="pk" d="M294.3 397.7 L294.3 393.7 A4 4 0 0 1 298.3 397.7 Z"/></g>
<g id="b-c65"><circle class="o" cx="292.3" cy="370.7" r="4"/></g>
<g id="b-c66"><circle class="o" cx="296.7" cy="377.3" r="4"/></g>
<g id="b-c67"><circle class="o" cx="281.7" cy="388.5" r="4"/></g>
<g id="b-c68"><circle class="o" cx="284" cy="411" r="4"/><path class="pk" d="M284 411 L280 411 A4 4 0 0 1 288 411 Z"/></g>
<g id="b-c69"><circle class="o" cx="284" cy="419" r="4"/></g>
<g id="b-c70"><circle class="o" cx="259.9" cy="374.4" r="4"/></g>
<g id="b-c70b"><circle class="c" cx="270.5" cy="381" r="4"/></g>
<g id="b-c70c"><circle class="k" cx="277.3" cy="392" r="4"/></g>
<g id="b-c70d"><circle class="o" cx="277.3" cy="411.6" r="4"/></g>
<g id="b-c71"><circle class="k" cx="263.7" cy="425.5" r="4"/></g>
<g id="b-c72"><circle class="k" cx="268" cy="418" r="4"/></g>
<g id="b-c73"><circle class="o" cx="244.7" cy="424.5" r="4"/><path class="pk" d="M244.7 424.5 L240.7 424.5 A4 4 0 0 1 248.7 424.5 Z"/></g>
<g id="b-c74"><circle class="c" cx="238.7" cy="426.5" r="4"/></g>
<g id="b-c74c"><circle class="o" cx="232" cy="436" r="4"/></g>
<g id="b-c74d"><circle class="o" cx="217" cy="438.5" r="4"/></g>
<g id="b-c74e"><circle class="o" cx="206.6" cy="433.5" r="4"/></g>
<g id="b-c75"><circle class="k" cx="230" cy="455" r="4.5"/></g>
<g id="b-c77"><circle class="o" cx="238" cy="452" r="5"/></g>
<g id="b-c76"><circle class="k" cx="245" cy="456.7" r="4.5"/></g>
<g id="b-c78"><circle class="g" cx="254" cy="449.3" r="4"/></g>
<g id="b-c79"><circle class="o" cx="260" cy="441" r="4"/></g>
<g id="b-c80"><circle class="k" cx="225" cy="470.7" r="4"/></g>
<g id="b-c81"><circle class="k" cx="232.3" cy="471.7" r="4"/></g>
<g id="b-c82"><circle class="o" cx="239.3" cy="476.7" r="4"/></g>
<g id="b-c83"><circle class="o" cx="244.3" cy="483.3" r="4"/></g>
<g id="b-c84"><circle class="o" cx="250.7" cy="471" r="4"/></g>
<g id="b-c85"><circle class="o" cx="256.7" cy="487.3" r="5"/></g>
<g id="b-c86"><circle class="g" cx="254" cy="496.7" r="4"/></g>
<g id="b-c87"><circle class="g" cx="291.7" cy="476.7" r="6"/></g>
<g id="b-c88"><circle class="g" cx="283.3" cy="486.7" r="6"/></g>
<g id="b-c89"><circle class="g" cx="324.3" cy="492.7" r="5.7"/></g>
<g id="b-c90"><circle class="o" cx="305" cy="456.7" r="4"/></g>
<g id="b-c91"><circle class="o" cx="311" cy="462.7" r="4"/></g>
<g id="b-c92"><circle class="o" cx="309.3" cy="466.7" r="4"/></g>
<g id="b-c93"><circle class="o" cx="270" cy="430" r="4"/></g>
<g id="b-c94"><circle class="o" cx="270.7" cy="436" r="4"/></g>
<g id="b-c95"><circle class="o" cx="280" cy="426.7" r="4"/></g>
<g id="b-c96"><circle class="o" cx="286" cy="431" r="4"/></g>
<g id="b-c97"><circle class="o" cx="286" cy="436.5" r="4"/></g>
<g id="b-c98"><circle class="o" cx="276" cy="444.3" r="4"/></g>
<g id="b-c99"><circle class="g" cx="280.3" cy="501.7" r="4"/></g>
<g id="b-c100"><circle class="g" cx="294" cy="501.7" r="4"/></g>
<g id="b-c101"><circle class="g" cx="312.7" cy="496.7" r="4"/></g>
<g id="b-c102"><circle class="o" cx="315.7" cy="506" r="4"/></g>
<g id="b-c103"><circle class="o" cx="316.7" cy="516" r="4"/></g>
<g id="b-c104"><circle class="o" cx="319.3" cy="513.5" r="4"/></g>
<g id="b-c105"><circle class="o" cx="307.3" cy="521" r="4"/></g>
<g id="b-c106"><circle class="g" cx="291.7" cy="467.3" r="4"/></g>
<g id="b-c107"><circle class="g" cx="305" cy="475" r="4"/></g>
<g id="b-c108"><circle class="g" cx="310" cy="481.7" r="4"/></g>
<g id="b-c109"><circle class="g" cx="300.7" cy="487.3" r="4"/></g>
<g id="b-c110"><circle class="g" cx="272.3" cy="487.3" r="4"/></g>
<g id="b-c111"><circle class="g" cx="278" cy="484" r="4"/></g>
<g id="b-c112"><circle class="k" cx="125" cy="453" r="4"/></g>
<g id="b-c115"><circle class="o" cx="138.3" cy="481.6" r="4"/></g>
<g id="b-c116"><circle class="o" cx="126.6" cy="502" r="4"/></g>
</g>
</svg>
